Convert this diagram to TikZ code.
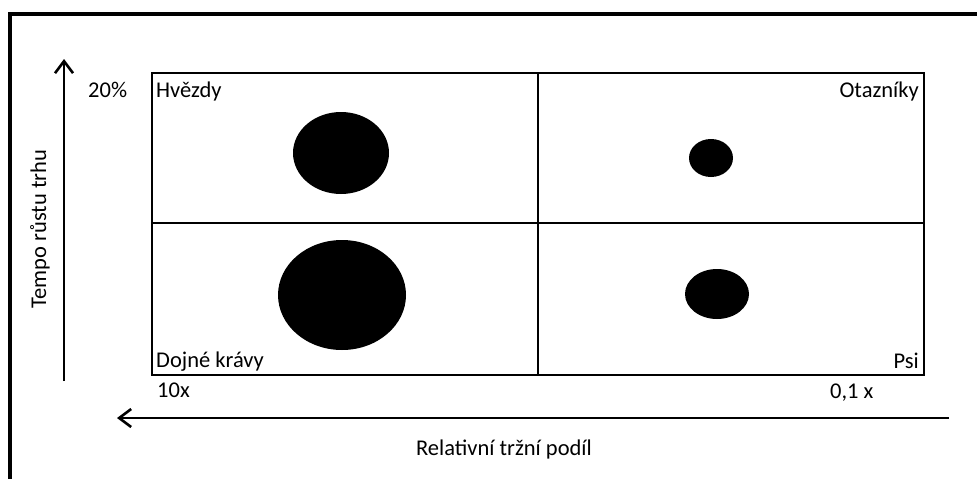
\documentclass[tikz,border=0pt]{standalone}
\usepackage{fontspec}
\setmainfont{Carlito}
\usetikzlibrary{arrows.meta,shapes.geometric}
\begin{document}
\begin{tikzpicture}[x=1pt,y=-1pt,
  frame/.style={line width=3.6pt},
  axis/.style={line width=2.6pt,-{Straight Barb[length=12pt,width=18pt,line width=2.6pt]}},
  grid/.style={line width=1.3pt},
  bubble/.style={ellipse,fill=black,draw=none,inner sep=0pt},
  lbl/.style={font=\fontsize{22.5}{27}\selectfont,inner sep=0pt}]
\useasboundingbox (0,0) rectangle (977,479);
% outer frame (open at right and bottom)
\draw[frame] (10,481) -- (10,14) -- (979,14);
% matrix grid
\coordinate (tl) at (152,73);
\coordinate (br) at (924,375);
\draw[grid] (tl) rectangle (br);
\draw[grid] (538,73) -- (538,375);
\draw[grid] (152,223) -- (924,223);
% bubbles
\node[bubble,minimum width=96pt,minimum height=82pt] (star) at (341,153) {};
\node[bubble,minimum width=44pt,minimum height=38pt] (quest) at (711,158) {};
\node[bubble,minimum width=128pt,minimum height=110pt] (cow) at (342,295) {};
\node[bubble,minimum width=64pt,minimum height=50pt] (dog) at (717,294) {};
% quadrant labels
\node[lbl,anchor=base west] (lstar) at (156,97) {Hvězdy};
\node[lbl,anchor=base east] (lquest) at (919,97) {Otazníky};
\node[lbl,anchor=base west] (lcow) at (156,367) {Dojné krávy};
\node[lbl,anchor=base east] (ldog) at (919,368) {Psi};
% axes
\coordinate (ybot) at (64,381);
\coordinate (ytop) at (64,59);
\draw[axis] (ybot) -- (ytop);
\coordinate (xright) at (949,418);
\coordinate (xleft) at (117,418);
\draw[axis] (xright) -- (xleft);
% axis labels
\node[lbl,anchor=base west] (pct) at (88,97) {20\%};
\node[lbl,anchor=base west] (ten) at (157,397) {10x};
\node[lbl,anchor=base west] (tenth) at (830,398) {0,1 x};
\node[lbl,anchor=base] (xlab) at (504,455) {Relativní tržní podíl};
\node[lbl,rotate=90] (ylab) at (40,229) {Tempo růstu trhu};
\end{tikzpicture}
\end{document}
